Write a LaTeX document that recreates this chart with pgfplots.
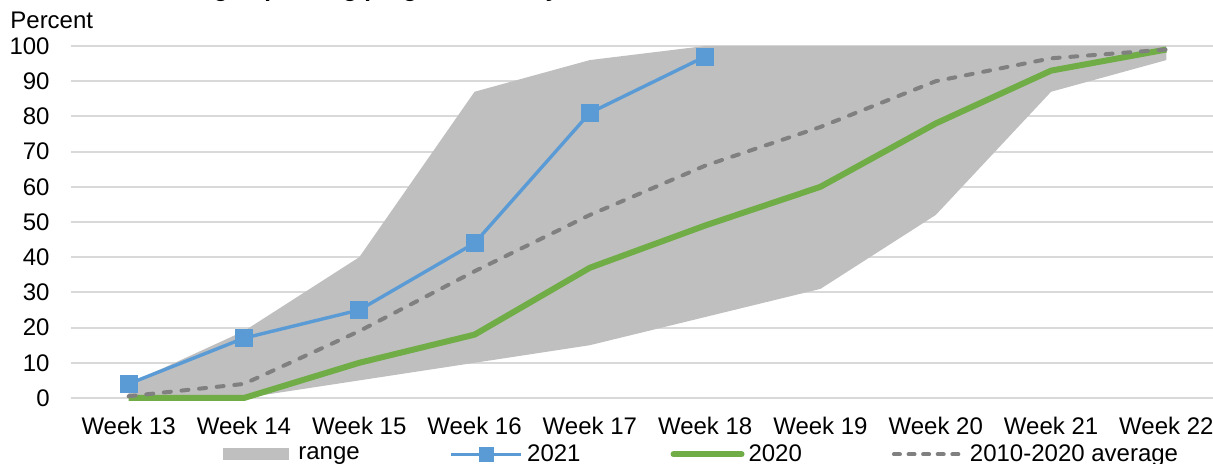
\documentclass[border=0pt]{standalone}
\usepackage{fontspec}
\setmainfont{Liberation Sans}
\usepackage{pgfplots}
\usepackage{pgfplotstable}
\pgfplotsset{compat=1.18}
\usepgfplotslibrary{fillbetween}

\definecolor{rangegray}{HTML}{BFBFBF}
\definecolor{gridgray}{HTML}{D9D9D9}
\definecolor{blueyr}{HTML}{5B9BD5}
\definecolor{greenyr}{HTML}{70AD47}
\definecolor{avggray}{HTML}{808080}

% Week index 0..9 = Week 13..Week 22
\pgfplotstableread{
wk up  lo
0  4   0
1  19  0
2  40  5
3  87  10
4  96  15
5  100 23
6  100 31
7  100 52
8  100 87
9  100 96
}\rangetable

\pgfplotstableread{
wk val
0  4
1  17
2  25
3  44
4  81
5  97
}\yrtwentyone

\pgfplotstableread{
wk val
0  0
1  0
2  10
3  18
4  37
5  49
6  60
7  78
8  93
9  99
}\yrtwenty

\pgfplotstableread{
wk val
0  0.5
1  4
2  19
3  36
4  52
5  66
6  77
7  90
8  96.5
9  99
}\avgtable

\newcommand{\chartfont}{\fontsize{12}{14.4}\selectfont}

% legend symbols
\pgfplotsset{
  leg range/.style={legend image code/.code={%
    \fill[rangegray] (0pt,-3pt) rectangle (33pt,3pt);
    \path (35.5pt,0pt);}},
  leg blue/.style={legend image code/.code={%
    \draw[blueyr, line width=1.7pt] (0pt,0pt) -- (35pt,0pt);
    \fill[blueyr] (14.5pt,-3pt) rectangle (20.5pt,3pt);}},
  leg green/.style={legend image code/.code={%
    \draw[greenyr, line width=3pt, line cap=round] (1.5pt,0pt) -- (35.5pt,0pt);}},
  leg avg/.style={legend image code/.code={%
    \draw[avggray, line width=2pt, line cap=round, dash pattern=on 3pt off 4.3pt] (1pt,0pt) -- (36pt,0pt);}},
}

\begin{document}
\begin{tikzpicture}
\begin{axis}[
  scale only axis,
  width=576.5pt, height=176pt,
  xmin=-0.5, xmax=9.5, ymin=0, ymax=100,
  xtick={0,...,9},
  xticklabels={Week 13,Week 14,Week 15,Week 16,Week 17,Week 18,Week 19,Week 20,Week 21,Week 22},
  ytick={0,10,...,100},
  ymajorgrids,
  grid style={gridgray, line width=1pt},
  axis line style={draw=none},
  major tick length=0pt,
  tick label style={font=\chartfont},
  /pgf/number format/assume math mode=true,
  xticklabel style={inner sep=0pt},
  yticklabel style={inner sep=0pt},
  xticklabel shift=9.5pt,
  yticklabel shift=10.5pt,
  clip=false,
  legend columns=4,
  legend style={draw=none, fill=none, inner sep=0pt,
    at={(axis description cs:0.1318,-0.16)}, anchor=west,
    font=\chartfont,
    /tikz/every even column/.append style={column sep=43pt}},
]
\addplot[name path=up, draw=none, forget plot] table[x=wk, y=up] {\rangetable};
\addplot[name path=lo, draw=none, forget plot] table[x=wk, y=lo] {\rangetable};
\addplot[fill=rangegray, draw=none, leg range] fill between[of=up and lo];
\addlegendentry{range}

\addplot[blueyr, line width=1.7pt, mark=square*, mark size=4.25pt,
  mark options={solid, fill=blueyr, draw=blueyr, line width=0pt}, leg blue]
  table[x=wk, y=val] {\yrtwentyone};
\addlegendentry{2021}

\addplot[greenyr, line width=3pt, line join=round, leg green]
  table[x=wk, y=val] {\yrtwenty};
\addlegendentry{2020}

\addplot[avggray, line width=2pt, line cap=round, dash pattern=on 3.5pt off 5.35pt, leg avg]
  table[x=wk, y=val] {\avgtable};
\addlegendentry{2010-2020 average}

\coordinate (o) at (axis cs:-0.5,0);
\end{axis}

\node[anchor=base west, inner sep=0pt, font=\chartfont] at ([shift={(-30.5pt,184.5pt)}]o) {Percent};
\node[anchor=base west, inner sep=0pt, font=\chartfont\bfseries] at ([shift={(6pt,200.6pt)}]o)
  {Corn: timing of planting progress, weekly, 2021};

\pgfresetboundingbox
\path[use as bounding box] ([shift={(-35.5pt,-33pt)}]o) rectangle ++(606.5pt,232pt);
\end{tikzpicture}
\end{document}
